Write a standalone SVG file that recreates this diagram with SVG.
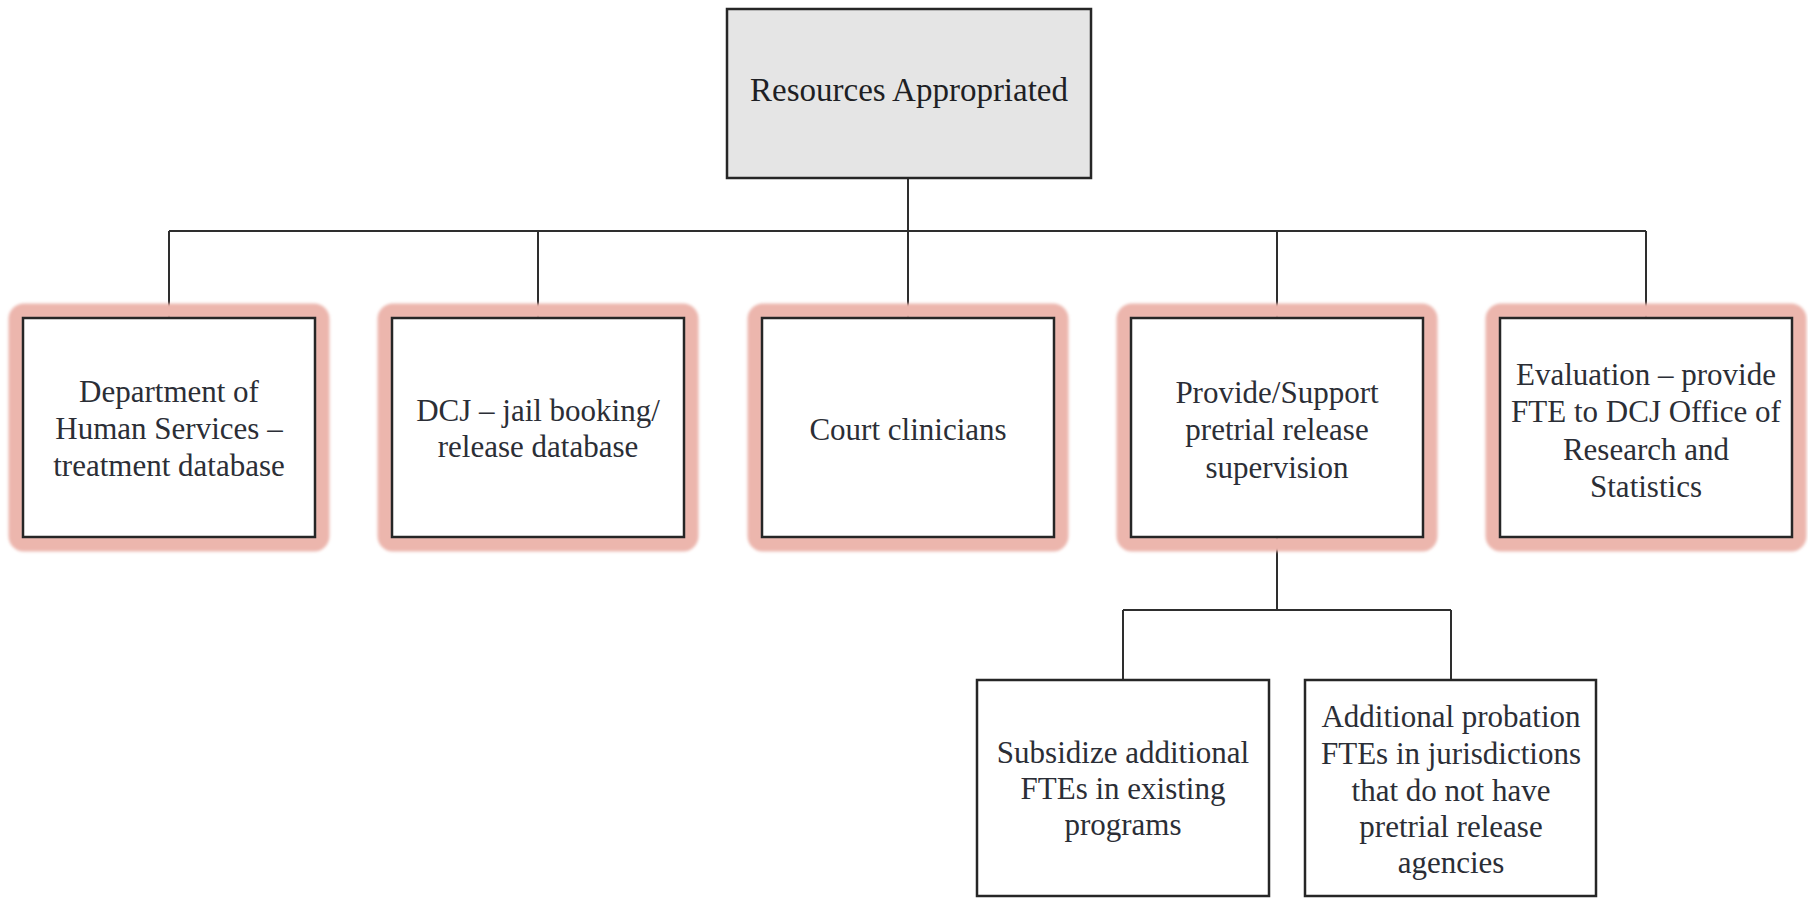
<svg xmlns="http://www.w3.org/2000/svg" width="1808" height="898" viewBox="0 0 1808 898">
<style>
  .box { fill: #ffffff; stroke: #262626; stroke-width: 2.5; }
  .top { fill: #e5e5e5; stroke: #262626; stroke-width: 2.5; }
  .glow { fill: none; stroke: #ecb6ad; stroke-width: 15; filter: url(#soft); }
  .conn { stroke: #2e2e2e; stroke-width: 2; fill: none; }
  text { font-family: "Liberation Serif", "Times New Roman", serif; font-size: 31px; fill: #2b2e36; text-anchor: middle; }
  .title { font-size: 33px; fill: #1e1f24; }
</style>
<defs>
  <filter id="soft" x="-10%" y="-10%" width="120%" height="120%">
    <feGaussianBlur stdDeviation="1.8"/>
  </filter>
</defs>
<rect width="1808" height="898" fill="#ffffff"/>

<g id="connectors">
  <line class="conn" x1="908" y1="178" x2="908" y2="318"/>
  <line class="conn" x1="169" y1="231" x2="1646" y2="231"/>
  <line class="conn" x1="169" y1="231" x2="169" y2="318"/>
  <line class="conn" x1="538" y1="231" x2="538" y2="318"/>
  <line class="conn" x1="1277" y1="231" x2="1277" y2="318"/>
  <line class="conn" x1="1646" y1="231" x2="1646" y2="318"/>
  <line class="conn" x1="1277" y1="537" x2="1277" y2="610"/>
  <line class="conn" x1="1123" y1="610" x2="1451" y2="610"/>
  <line class="conn" x1="1123" y1="610" x2="1123" y2="680"/>
  <line class="conn" x1="1451" y1="610" x2="1451" y2="680"/>
</g>

<g id="node-resources">
  <rect class="top" x="727" y="9" width="364" height="169"/>
  <text class="title" x="909" y="101">Resources Appropriated</text>
</g>

<g id="node-dhs">
  <rect class="glow" x="16" y="311" width="306" height="233" rx="8"/>
  <rect class="box" x="23" y="318" width="292" height="219"/>
  <text x="169" y="402">Department of</text>
  <text x="169" y="439">Human Services –</text>
  <text x="169" y="476">treatment database</text>
</g>

<g id="node-dcj">
  <rect class="glow" x="385" y="311" width="306" height="233" rx="8"/>
  <rect class="box" x="392" y="318" width="292" height="219"/>
  <text x="538" y="421">DCJ – jail booking/</text>
  <text x="538" y="457">release database</text>
</g>

<g id="node-court">
  <rect class="glow" x="755" y="311" width="306" height="233" rx="8"/>
  <rect class="box" x="762" y="318" width="292" height="219"/>
  <text x="908" y="440">Court clinicians</text>
</g>

<g id="node-pretrial">
  <rect class="glow" x="1124" y="311" width="306" height="233" rx="8"/>
  <rect class="box" x="1131" y="318" width="292" height="219"/>
  <text x="1277" y="403">Provide/Support</text>
  <text x="1277" y="440">pretrial release</text>
  <text x="1277" y="478">supervision</text>
</g>

<g id="node-evaluation">
  <rect class="glow" x="1493" y="311" width="306" height="233" rx="8"/>
  <rect class="box" x="1500" y="318" width="292" height="219"/>
  <text x="1646" y="385">Evaluation – provide</text>
  <text x="1646" y="422">FTE to DCJ Office of</text>
  <text x="1646" y="460">Research and</text>
  <text x="1646" y="497">Statistics</text>
</g>

<g id="node-subsidize">
  <rect class="box" x="977" y="680" width="292" height="216"/>
  <text x="1123" y="763">Subsidize additional</text>
  <text x="1123" y="799">FTEs in existing</text>
  <text x="1123" y="835">programs</text>
</g>

<g id="node-probation">
  <rect class="box" x="1305" y="680" width="291" height="216"/>
  <text x="1451" y="727">Additional probation</text>
  <text x="1451" y="764">FTEs in jurisdictions</text>
  <text x="1451" y="801">that do not have</text>
  <text x="1451" y="837">pretrial release</text>
  <text x="1451" y="873">agencies</text>
</g>
</svg>
